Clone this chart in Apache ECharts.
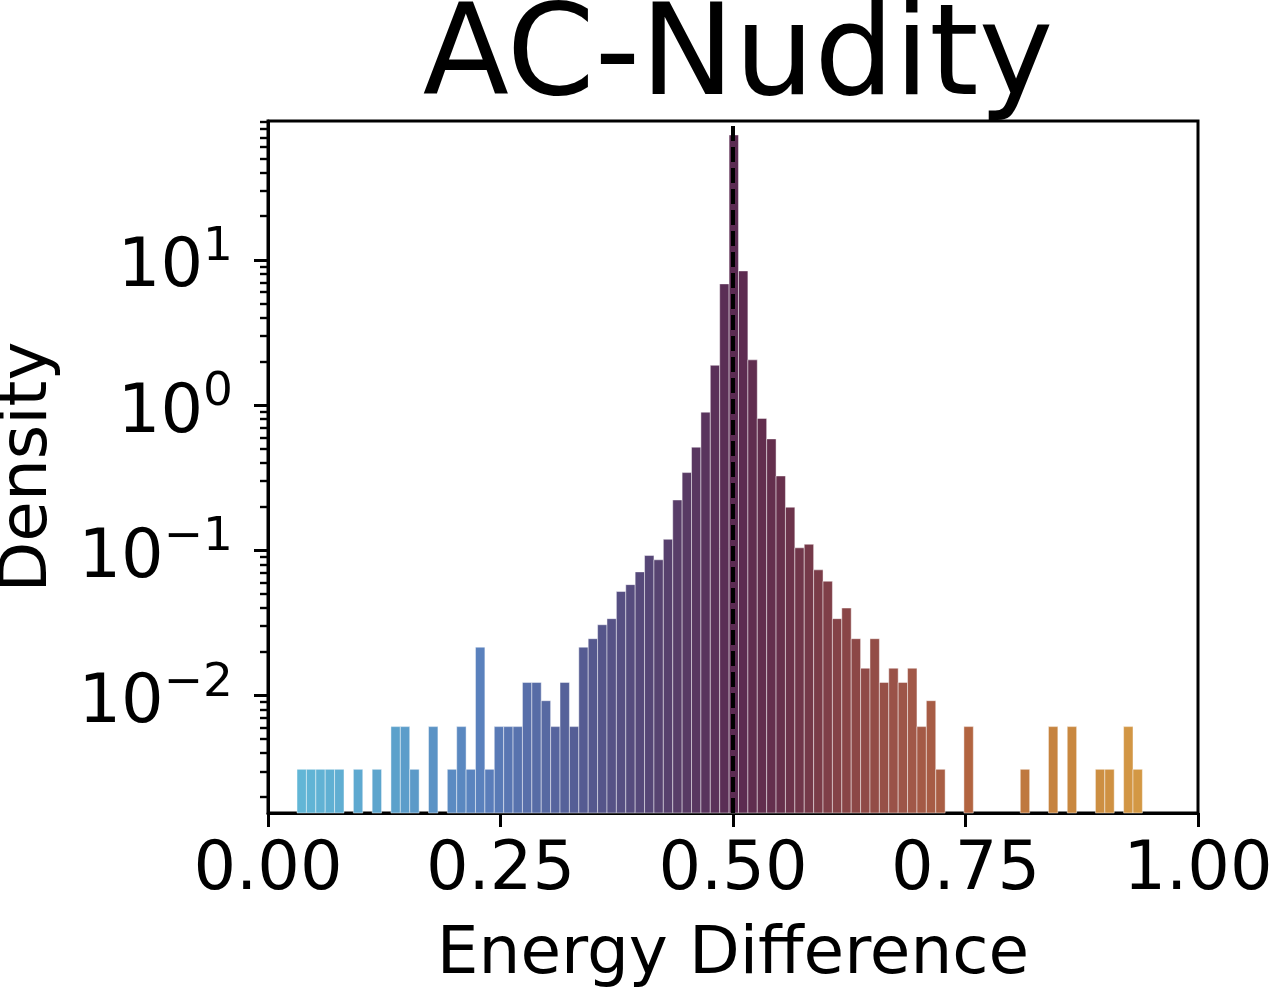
<!DOCTYPE html>
<html><head><meta charset="utf-8">
<script src="https://cdn.jsdelivr.net/npm/echarts@6/dist/echarts.min.js"></script>
<style>html,body{margin:0;padding:0;background:#fff}#c{width:1273px;height:989px}</style>
</head><body><div id="c"></div>
<script>
// histogram bin edges (91 edges -> 90 bins)
const binEdges = [0.0312,0.0413,0.0514,0.0615,0.0716,0.0817,0.0918,0.1019,0.1120,0.1221,
0.1322,0.1423,0.1524,0.1625,0.1726,0.1827,0.1928,0.2029,0.2130,0.2231,
0.2332,0.2433,0.2534,0.2635,0.2736,0.2837,0.2938,0.3039,0.3140,0.3241,
0.3342,0.3443,0.3544,0.3645,0.3746,0.3847,0.3948,0.4049,0.4150,0.4251,
0.4352,0.4453,0.4554,0.4655,0.4756,0.4857,0.4958,0.5059,0.5160,0.5261,
0.5362,0.5463,0.5564,0.5665,0.5766,0.5867,0.5968,0.6069,0.6170,0.6271,
0.6372,0.6473,0.6574,0.6675,0.6776,0.6877,0.6978,0.7079,0.7180,0.7281,
0.7382,0.7483,0.7584,0.7685,0.7786,0.7887,0.7988,0.8089,0.8190,0.8291,
0.8392,0.8493,0.8594,0.8695,0.8796,0.8897,0.8998,0.9099,0.9200,0.9301,0.9402];
// density per bin (0 = empty bin)
const density = [
0.0031,0.0031,0.0031,0.0031,0.0031,0,0.0031,0,0.0031,0,
0.0061,0.0061,0.0031,0,0.0061,0,0.0031,0.0061,0.0031,0.0215,
0.0031,0.0061,0.0061,0.0061,0.0123,0.0123,0.0092,0.0061,0.0123,0.0061,
0.0215,0.0246,0.0307,0.0338,0.052,0.058,0.071,0.092,0.086,0.119,
0.222,0.343,0.513,0.894,1.88,6.84,72.6,8.40,2.05,0.81,
0.585,0.325,0.198,0.104,0.110,0.0733,0.0612,0.0338,0.040,0.0246,
0.0154,0.0246,0.0123,0.0154,0.0123,0.0154,0.0061,0.0092,0.0031,0,
0,0.0061,0,0,0,0,0,0.0031,0,0,
0.0061,0,0.0061,0,0,0.0031,0.0031,0,0.0061,0.0031];
const xTickValues = [0, 0.25, 0.5, 0.75, 1];
const yMajorTicks = [0.01, 0.1, 1, 10];
const yMinorTicks = [0.002,0.003,0.004,0.005,0.006,0.007,0.008,0.009,
0.02,0.03,0.04,0.05,0.06,0.07,0.08,0.09,
0.2,0.3,0.4,0.5,0.6,0.7,0.8,0.9,
2,3,4,5,6,7,8,9,20,30,40,50,60,70,80,90];
const refLineX = 0.5;
const yMin = 0.00155, yMax = 90.6;

// colormap stops (position, colour)
const cmapStops = [
[0.00,[100,190,218]],[0.14,[92,160,203]],[0.23,[90,128,189]],[0.33,[85,94,150]],
[0.40,[86,73,122]],[0.45,[88,58,100]],[0.50,[91,43,82]],[0.55,[102,48,76]],
[0.62,[136,68,70]],[0.69,[160,87,72]],[0.76,[180,101,63]],[0.85,[199,133,63]],[1.00,[220,166,72]]];
function cmap(t){
  for(let i=1;i<cmapStops.length;i++){
    if(t<=cmapStops[i][0]){
      const a=cmapStops[i-1], b=cmapStops[i];
      const f=(t-a[0])/(b[0]-a[0]);
      const c=a[1].map((v,j)=>Math.round(v+(b[1][j]-v)*f));
      return 'rgb('+c.join(',')+')';
    }
  }
  const l=cmapStops[cmapStops.length-1][1];
  return 'rgb('+l.join(',')+')';
}

const histData = density.map((d,i)=>[binEdges[i], binEdges[i+1], d]);
const FONT = 'DejaVu Sans';

const chart = echarts.init(document.getElementById('c'), null, {renderer:'canvas'});
chart.setOption({
  animation:false,
  backgroundColor:'#fff',
  title:{text:'AC-Nudity', left:733, top:-7, textAlign:'center',
    textStyle:{fontFamily:FONT, fontSize:126, fontWeight:'normal', color:'#000'}},
  grid:{left:268, right:75, top:121, bottom:176, outerBoundsMode:'none', containLabel:false,
    show:true, borderColor:'#000', borderWidth:3, backgroundColor:'transparent'},
  xAxis:{type:'value', min:0, max:1, interval:0.25,
    name:'Energy Difference', nameLocation:'middle', nameGap:110,
    nameTextStyle:{fontFamily:FONT, fontSize:66, color:'#000'},
    axisLine:{show:true, lineStyle:{color:'#000', width:3}},
    axisTick:{show:true, length:14, lineStyle:{color:'#000', width:3}, customValues:xTickValues},
    axisLabel:{fontFamily:FONT, fontSize:67, color:'#000', margin:25,
      customValues:xTickValues, formatter:v=>v.toFixed(2)},
    splitLine:{show:false}},
  yAxis:[{type:'log', logBase:10, min:yMin, max:yMax,
    name:'Density', nameLocation:'middle', nameGap:206,
    nameTextStyle:{fontFamily:FONT, fontSize:66, color:'#000'},
    axisLine:{show:true, lineStyle:{color:'#000', width:3}},
    axisTick:{show:true, length:14, lineStyle:{color:'#000', width:3}, customValues:yMajorTicks},
    axisLabel:{customValues:yMajorTicks, margin:35, color:'#000', padding:[18,0,0,0],
      formatter:v=>{const e=Math.round(Math.log10(v)); return '{b|10}{s|'+(e<0?'\u2212'+(-e):e)+'}';},
      rich:{b:{fontFamily:FONT, fontSize:67, color:'#000'},
            s:{fontFamily:FONT, fontSize:47, color:'#000', padding:[0,0,42,0]}}},
    splitLine:{show:false}},
   {type:'log', logBase:10, min:yMin, max:yMax, position:'left',
    axisLine:{show:false},
    axisTick:{show:true, length:8, lineStyle:{color:'#000', width:2.4}, customValues:yMinorTicks},
    axisLabel:{show:false}, splitLine:{show:false}}],
  series:[
    {type:'custom', xAxisIndex:0, yAxisIndex:0, data:histData,
     renderItem:(params, api)=>{
       const x0=api.value(0), x1=api.value(1), d=api.value(2);
       if(!(d>0)) return null;
       const p0=api.coord([x0,d]), p1=api.coord([x1,yMin]);
       return {type:'rect', shape:{x:p0[0], y:p0[1], width:p1[0]-p0[0], height:p1[1]-p0[1]},
         style:{fill:cmap((x0+x1)/2), stroke:'rgba(255,255,255,0.45)', lineWidth:1}};
     }, z:2},
    {type:'line', xAxisIndex:0, yAxisIndex:0, data:[[refLineX,yMin],[refLineX,yMax]],
     symbol:'none', clip:false, lineStyle:{color:'#000', width:4, type:[15,6]}, z:10}
  ]
});
</script></body></html>
